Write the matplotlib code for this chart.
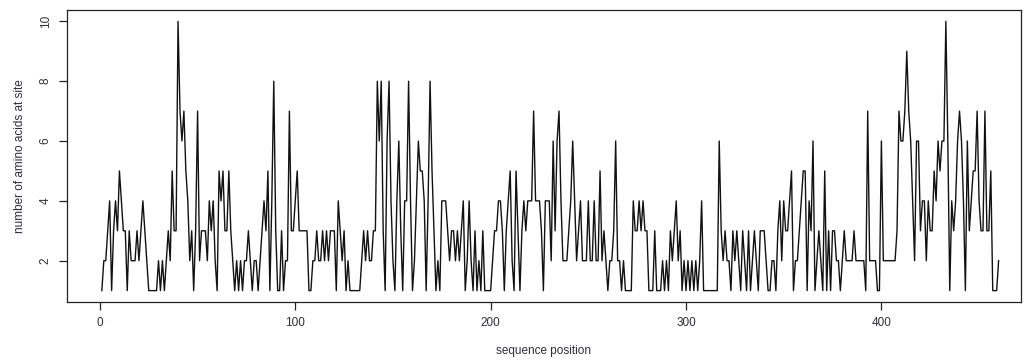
import numpy as np
import matplotlib.pyplot as plt

plt.rcParams['font.family'] = ['Liberation Sans', 'DejaVu Sans']

# number of distinct amino acids observed at each site, in sequence order
sites_001_056 = [1, 2, 2, 3, 4, 1, 3, 4, 3, 5,
                 4, 3, 3, 1, 3, 2, 2, 2, 3, 2,
                 3, 4, 3, 2, 1, 1, 1, 1, 1, 2,
                 1, 2, 1, 2, 3, 2, 5, 3, 3, 10,
                 7, 6, 7, 5, 4, 2, 3, 1, 3, 7,
                 2, 3, 3, 3, 2, 4]
sites_057_112 = [3, 4, 2, 1, 5, 4, 5, 3, 3, 5,
                 3, 2, 1, 2, 1, 2, 1, 2, 2, 3,
                 2, 1, 2, 2, 1, 2, 3, 4, 3, 5,
                 1, 4, 8, 3, 1, 1, 3, 1, 2, 2,
                 7, 3, 3, 4, 5, 3, 3, 3, 3, 3,
                 1, 1, 2, 2, 3, 2]
sites_113_173 = [2, 3, 2, 3, 2, 3, 3, 3, 1, 4,
                 3, 2, 3, 1, 2, 1, 1, 1, 1, 1,
                 1, 2, 3, 2, 3, 2, 2, 3, 3, 8,
                 6, 8, 3, 1, 6, 8, 4, 2, 1, 4,
                 6, 3, 1, 4, 4, 8, 4, 1, 2, 4,
                 6, 5, 5, 4, 1, 4, 8, 5, 3, 1,
                 2]
sites_174_231 = [1, 4, 4, 4, 3, 2, 3, 3, 2, 3,
                 2, 3, 4, 1, 2, 4, 2, 1, 3, 1,
                 2, 1, 3, 1, 1, 1, 1, 2, 3, 3,
                 4, 4, 3, 1, 3, 4, 5, 2, 1, 5,
                 3, 1, 3, 4, 3, 4, 4, 4, 7, 4,
                 4, 4, 3, 1, 4, 4, 4, 2]
sites_232_289 = [6, 3, 6, 7, 4, 2, 2, 2, 3, 4,
                 6, 4, 2, 3, 4, 2, 2, 2, 4, 2,
                 2, 4, 2, 2, 5, 2, 3, 2, 1, 2,
                 2, 3, 6, 2, 2, 1, 2, 1, 1, 1,
                 1, 4, 3, 3, 4, 3, 4, 3, 3, 1,
                 1, 1, 3, 1, 1, 1, 2, 1]
sites_290_347 = [2, 1, 3, 2, 3, 4, 2, 3, 1, 2,
                 1, 2, 1, 2, 1, 2, 1, 2, 4, 1,
                 1, 1, 1, 1, 1, 1, 1,
                 6, 3, 2, 3, 2, 2, 1, 3, 2, 3,
                 2, 1, 3, 2, 1, 3, 1, 2, 3, 2,
                 1, 3, 3, 3, 2, 1, 1, 2, 2, 1, 3]
sites_348_406 = [4, 2, 4, 3, 3, 4, 5, 1, 2, 2,
                 3, 4, 5, 5, 1, 4, 3, 6, 1, 2,
                 3, 2, 1, 5, 1, 3, 1, 3, 3, 2,
                 2, 1, 2, 3, 2, 2, 2, 2, 3, 2,
                 2, 2, 2, 2, 1, 7, 2, 2, 2, 2,
                 1, 1, 6, 2, 2, 2, 2, 2, 2]
sites_407_460 = [2, 3, 7, 6, 6, 7, 9, 7, 6, 4,
                 2, 6, 6, 3, 4, 4, 2, 4, 3, 3,
                 5, 4, 6, 5, 6, 6, 10, 6, 1, 4,
                 3, 4, 6, 7, 6, 4, 1, 6, 3, 4,
                 5, 5, 7, 4, 3, 3, 7, 3, 3, 5,
                 1, 1, 1, 2]

counts = np.array(sites_001_056 + sites_057_112 + sites_113_173 + sites_174_231
                  + sites_232_289 + sites_290_347 + sites_348_406 + sites_407_460)
position = np.arange(1, len(counts) + 1)

x_ticks = [0, 100, 200, 300, 400]
y_ticks = [2, 4, 6, 8, 10]

text_col = '#2e2e3c'

fig = plt.figure(figsize=(10.29, 3.61), dpi=100)
ax = fig.add_axes([0.0648, 0.1643, 0.9275, 0.808])

ax.plot(position, counts, color='#111111', lw=1.0)

ax.set_xlim(-17, 471.5)
ax.set_ylim(0.63, 10.38)
ax.set_xticks(x_ticks)
ax.set_yticks(y_ticks)

ax.tick_params(axis='both', direction='out', length=5.8, width=0.9,
               labelsize=8.5, colors='#222222', labelcolor=text_col, pad=5)
for lab in ax.get_yticklabels():
    lab.set_rotation(90)
    lab.set_va('center')

for sp in ax.spines.values():
    sp.set_linewidth(0.9)
    sp.set_color('#222222')

ax.set_xlabel('sequence position', fontsize=8.5, color=text_col, labelpad=12)
ax.set_ylabel('number of amino acids at site', fontsize=8.5, color=text_col, labelpad=10)

fig.savefig('out.png', dpi=100)
